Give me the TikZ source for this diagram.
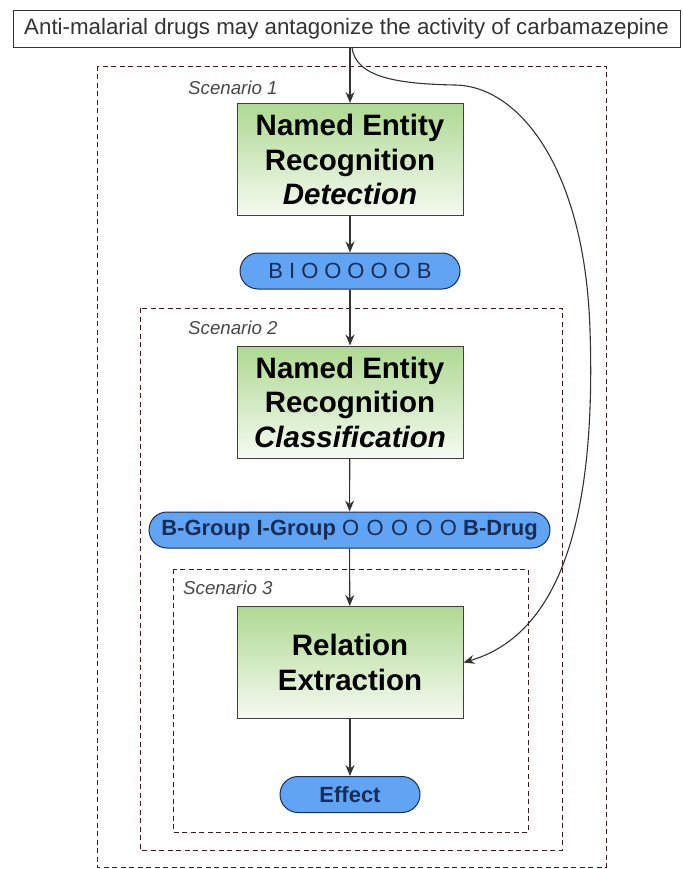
\documentclass[tikz,border=0pt]{standalone}
\usepackage{fontspec}
\setmainfont{Liberation Sans}
\usetikzlibrary{arrows.meta}

\definecolor{stagegreen}{RGB}{174,217,146}
\definecolor{stagewhite}{RGB}{245,250,241}
\definecolor{tagblue}{RGB}{98,164,244}
\definecolor{tagnavy}{RGB}{24,44,88}
\definecolor{scenred}{RGB}{72,24,24}
\definecolor{scengray}{RGB}{72,72,72}
\newcommand{\tg}{\hspace{6pt}}

\begin{document}
\begin{tikzpicture}%
	[x=1pt, y=-1pt,
	sentence/.style={draw=black!80, line width=1pt, minimum width=667pt, minimum height=37pt, inner sep=0pt, text=black!80, font=\fontsize{22.3}{26}\selectfont},
	stage/.style={draw=black!75, line width=1pt, top color=stagegreen, bottom color=stagewhite, minimum width=226pt, minimum height=112pt, inner sep=0pt, align=center, font=\bfseries\fontsize{29.5}{34.5}\selectfont},
	tag/.style={draw=tagnavy, line width=1pt, fill=tagblue, rounded corners=18pt, minimum height=36pt, inner sep=0pt, text=tagnavy, font=\fontsize{22}{24}\selectfont},
	scenario/.style={draw=scenred, line width=0.9pt, dash pattern=on 5pt off 3.5pt},
	scenlabel/.style={anchor=west, inner sep=0pt, text=scengray, font=\itshape\fontsize{18.7}{22}\selectfont},
	flow/.style={draw=black!80, line width=1.1pt, -{Stealth[length=11pt,width=9pt]}}]
%
\useasboundingbox (0,0) rectangle (682,869);
\coordinate (fork) at (352,47);
%%
%%
%% Drawing the scenarios
%%
\draw[scenario] (97,66) rectangle (606,867);
\draw[scenario] (140,308) rectangle (562,850);
\draw[scenario] (173,569) rectangle (528,832);
\node[scenlabel] (scen1) at (188,88) {Scenario 1};
\node[scenlabel] (scen2) at (188,328) {Scenario 2};
\node[scenlabel] (scen3) at (183,588) {Scenario 3};
%%
%%
%% Drawing the nodes
%%
\node[sentence] (sentence) at (346.5,29) {Anti-malarial drugs may antagonize the activity of carbamazepine};
\node[stage] (detect) at (350,159.5) {Named Entity\\Recognition\\\textit{Detection}};
\node[tag, minimum width=220pt] (bio) at (350,271) {B\tg I\tg O\tg O\tg O\tg O\tg O\tg B};
\node[stage] (classify) at (350,402) {Named Entity\\Recognition\\\textit{Classification}};
\node[tag, minimum width=401pt] (labels) at (349.5,530) {\textbf{B-Group I-Group} O\,\,O\,\,O\,\,O\,\,O \textbf{B-Drug}};
\node[stage] (relation) at (350,662.5) {Relation\\Extraction};
\node[tag, minimum width=140pt] (effect) at (350,794.5) {\textbf{Effect}};
%%
%%
%% Drawing the arrows
%%
\draw[flow] (sentence.south -| detect.north) -- (detect.north);
\draw[flow] (detect) -- (bio);
\draw[flow] (bio) -- (classify);
\draw[flow] (classify) -- (labels);
\draw[flow] (labels) -- (relation);
\draw[flow] (relation) -- (effect);
\draw[flow] (fork) .. controls (355,78) and (400,84) .. (455,85)
	.. controls (520,86) and (585,170) .. (590,330)
	.. controls (595,480) and (575,630) .. (relation.east);

\end{tikzpicture}
\end{document}
